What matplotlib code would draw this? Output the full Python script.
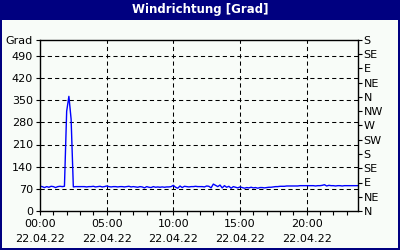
import numpy as np
import matplotlib
matplotlib.use("Agg")
import matplotlib.pyplot as plt
from matplotlib.patches import Rectangle

# Windrichtung alle 10 Minuten, 22.04.22 00:00 - 23:50
werte = [
    78, 77, 74, 77, 75, 78,
    77, 74, 77, 78, 77, 78,
    315, 362, 290, 76, 77, 77,
    77, 77, 77, 76, 77, 77,
    78, 76, 77, 78, 76, 77,
    79, 77, 76, 77, 77, 76,
    77, 77, 76, 77, 78, 76,
    77, 76, 75, 77, 76, 73,
    77, 75, 74, 77, 75, 76,
    75, 76, 75, 76, 76, 77,
    81, 75, 72, 79, 74, 78,
    77, 76, 77, 77, 78, 77,
    77, 77, 76, 79, 78, 73,
    85, 81, 77, 82, 73, 80,
    75, 78, 72, 77, 75, 73,
    76, 74, 72, 74, 73, 75,
    73, 74, 72, 74, 74, 73,
    74, 75, 75, 76, 77, 77,
    78, 78, 78, 79, 79, 79,
    79, 79, 79, 80, 80, 80,
    80, 80, 80, 80, 79, 80,
    80, 81, 83, 79, 81, 80,
    80, 79, 80, 80, 79, 80,
    80, 80, 80, 80, 80, 80,
]
stunden = np.arange(len(werte)) / 6.0

grad_ticks = [0, 70, 140, 210, 280, 350, 420, 490, 540]
grad_labels = ["0", "70", "140", "210", "280", "350", "420", "490", "Grad"]
richtungen = ["N", "NE", "E", "SE", "S", "SW", "W", "NW", "N", "NE", "E", "SE", "S"]
x_major = [0, 5, 10, 15, 20]
x_labels = ["00:00\n22.04.22", "05:00\n22.04.22", "10:00\n22.04.22",
            "15:00\n22.04.22", "20:00\n22.04.22"]

navy = "#000080"
bg = "#f8fcf8"

fig = plt.figure(figsize=(4, 2.5), dpi=100, facecolor=navy)
# Innenfläche
fig.patches.append(Rectangle((2 / 400, 2 / 250), 396 / 400, 228 / 250,
                             transform=fig.transFigure, facecolor=bg,
                             edgecolor="none", zorder=-5))
fig.text(0.5, 1 - 10 / 250, "Windrichtung [Grad]", color="white",
         fontsize=8.5, fontweight="bold", ha="center", va="center")

ax = fig.add_axes([40 / 400, 1 - 211 / 250, 318 / 400, 171 / 250])
ax.set_facecolor(bg)
ax.plot(stunden, werte, color="#0000ff", lw=1.0)

ax.set_xlim(0, 23.85)
ax.set_ylim(0, 540)
ax.set_xticks(x_major)
ax.set_xticklabels(x_labels, linespacing=1.6)
ax.set_xticks(np.arange(1, 24), minor=True)
ax.set_yticks(grad_ticks)
ax.set_yticklabels(grad_labels)

for s in ax.spines.values():
    s.set_color("black")
    s.set_linewidth(1)
ax.tick_params(axis="both", which="both", direction="out", length=3,
               width=0.8, color="black", labelsize=8, pad=2)
ax.tick_params(axis="x", which="major", pad=3)

for y in grad_ticks[1:-1]:
    ax.axhline(y, color="black", lw=0.75, ls=(0, (4, 3)), zorder=1)
for x in x_major[1:]:
    ax.axvline(x, color="black", lw=0.75, ls=(0, (4, 3)), zorder=1)

ax2 = ax.twinx()
ax2.set_ylim(0, 540)
ax2.set_yticks(np.arange(0, 541, 45))
ax2.set_yticklabels(richtungen)
ax2.tick_params(axis="y", direction="out", length=3, width=0.8,
                labelsize=8, pad=1)
for s in ax2.spines.values():
    s.set_visible(False)

fig.savefig("out.png", dpi=100, facecolor=navy)
